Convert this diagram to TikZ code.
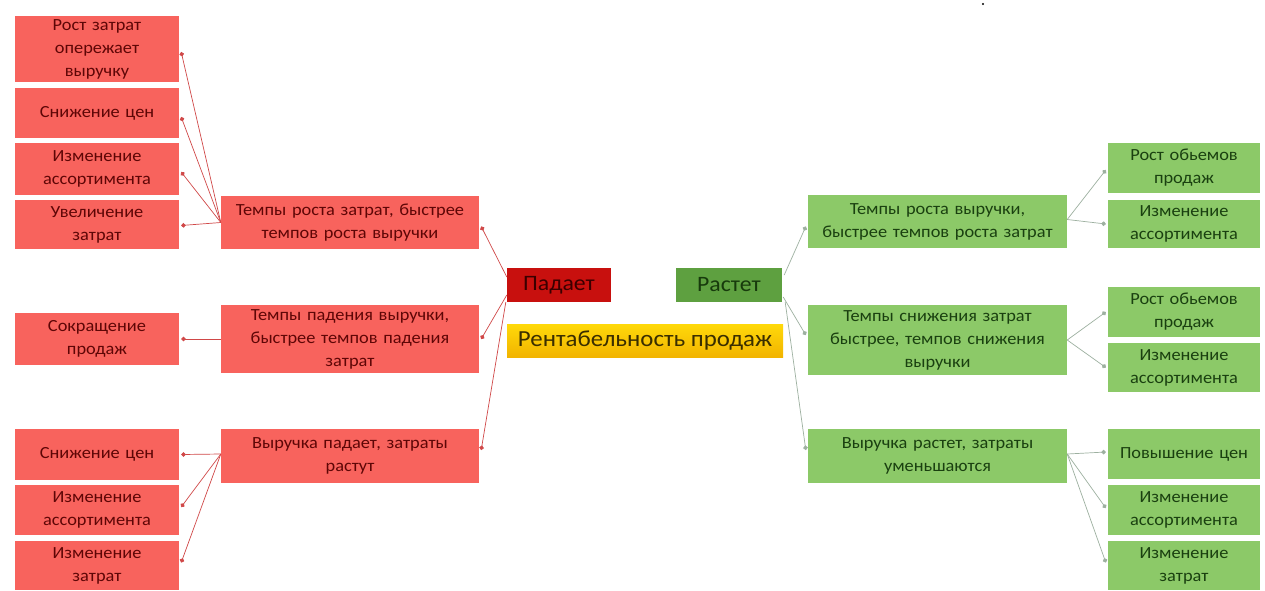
\documentclass[tikz,border=0pt]{standalone}
\usepackage{fontspec}
\setmainfont[FakeStretch=1.08]{Carlito}
\usetikzlibrary{arrows.meta}
\definecolor{boxred}{HTML}{F8635D}
\definecolor{txtred}{HTML}{5E0606}
\definecolor{padred}{HTML}{C8100E}
\definecolor{padtxt}{HTML}{3A0000}
\definecolor{rastgreen}{HTML}{5EA040}
\definecolor{rasttxt}{HTML}{173A0C}
\definecolor{yeltop}{HTML}{FFD90A}
\definecolor{yelbot}{HTML}{F2B400}
\definecolor{yeltxt}{HTML}{3A2E00}
\definecolor{boxgreen}{HTML}{8CC968}
\definecolor{txtgreen}{HTML}{1A4010}
\definecolor{linered}{HTML}{D04848}
\definecolor{linegrey}{HTML}{9DB0A0}
\tikzset{
  box/.style={rectangle, inner sep=0pt, align=center, font=\fontsize{17}{23}\selectfont},
  redbox/.style={box, fill=boxred, text=txtred},
  greenbox/.style={box, fill=boxgreen, text=txtgreen},
  lcol/.style={minimum width=164pt, text width=160pt},
  mcol/.style={minimum width=258pt, text width=252pt},
  rcol/.style={minimum width=152pt, text width=150pt},
  lconn/.style={draw=linered, line width=0.7pt, -{Circle[length=4.5pt]}},
  rconn/.style={draw=linegrey, line width=0.7pt, -{Circle[length=4.5pt]}},
}
\begin{document}
\begin{tikzpicture}[x=1pt,y=-1pt]
\useasboundingbox (0,0) rectangle (1265,590);
\fill[white] (0,0) rectangle (1265,590);
\fill[black] (983,4) circle (1.1pt);
% left column
\node[redbox, lcol, minimum height=66pt] (L1) at (97,49) {Рост затрат\\опережает\\выручку};
\node[redbox, lcol, minimum height=50pt] (L2) at (97,113) {Снижение цен};
\node[redbox, lcol, minimum height=52pt] (L3) at (97,169) {Изменение\\ассортимента};
\node[redbox, lcol, minimum height=49pt] (L4) at (97,224.5) {Увеличение\\затрат};
\node[redbox, lcol, minimum height=52pt] (L5) at (97,339) {Сокращение\\продаж};
\node[redbox, lcol, minimum height=51pt] (L6) at (97,454.5) {Снижение цен};
\node[redbox, lcol, minimum height=50pt] (L7) at (97,510) {Изменение\\ассортимента};
\node[redbox, lcol, minimum height=49pt] (L8) at (97,565.5) {Изменение\\затрат};
% left middle
\node[redbox, mcol, minimum height=53pt] (M1) at (350,222.5) {Темпы роста затрат, быстрее\\темпов роста выручки};
\node[redbox, mcol, minimum height=68pt] (M2) at (350,339) {Темпы падения выручки,\\быстрее темпов падения\\затрат};
\node[redbox, mcol, minimum height=54pt] (M3) at (350,456) {Выручка падает, затраты\\растут};
% centre
\node[box, fill=padred, text=padtxt, minimum width=104pt, minimum height=34pt, font=\fontsize{22}{24}\selectfont] (pad) at (559,285) {Падает};
\node[box, fill=rastgreen, text=rasttxt, minimum width=106pt, minimum height=34pt, font=\fontsize{22}{24}\selectfont] (rast) at (729,285) {Растет};
\node[box, top color=yeltop, bottom color=yelbot, text=yeltxt, minimum width=276pt, minimum height=33pt, font=\fontsize{23}{25}\selectfont] (rent) at (645,340.5) {Рентабельность продаж};
% right middle
\node[greenbox, mcol, minimum width=259pt, minimum height=53pt] (R1) at (937.5,221.5) {Темпы роста выручки,\\быстрее темпов роста затрат};
\node[greenbox, mcol, minimum width=259pt, minimum height=70pt] (R2) at (937.5,340) {Темпы снижения затрат\\быстрее, темпов снижения\\выручки};
\node[greenbox, mcol, minimum width=259pt, minimum height=54pt] (R3) at (937.5,456) {Выручка растет, затраты\\уменьшаются};
% right column
\node[greenbox, rcol, minimum height=50pt] (RR1) at (1184,168) {Рост обьемов\\продаж};
\node[greenbox, rcol, minimum height=48pt] (RR2) at (1184,224) {Изменение\\ассортимента};
\node[greenbox, rcol, minimum height=50pt] (RR3) at (1184,312) {Рост обьемов\\продаж};
\node[greenbox, rcol, minimum height=49pt] (RR4) at (1184,367.5) {Изменение\\ассортимента};
\node[greenbox, rcol, minimum height=50pt] (RR5) at (1184,454) {Повышение цен};
\node[greenbox, rcol, minimum height=50pt] (RR6) at (1184,510) {Изменение\\ассортимента};
\node[greenbox, rcol, minimum height=49pt] (RR7) at (1184,565.5) {Изменение\\затрат};
% connectors left
\draw[lconn] ([yshift=8pt]pad.west) -- ([xshift=2pt,yshift=-4pt]M1.east);
\draw[lconn] ([yshift=-10pt]pad.west) -- ([xshift=2pt]M2.east);
\draw[lconn] ([xshift=-1pt]pad.south west) -- ([xshift=2pt,yshift=6pt]M3.east);
\draw[lconn] (M1.west) -- ([xshift=2pt,yshift=-3pt]L1.east);
\draw[lconn] (M1.west) -- ([xshift=2pt,yshift=-4pt]L2.east);
\draw[lconn] (M1.west) -- ([xshift=2pt,yshift=-3pt]L3.east);
\draw[lconn] (M1.west) -- ([xshift=2pt,yshift=-1pt]L4.east);
\draw[lconn] (M2.west) -- ([xshift=2pt]L5.east);
\draw[lconn] ([yshift=2pt]M3.west) -- ([xshift=2pt]L6.east);
\draw[lconn] ([yshift=2pt]M3.west) -- ([xshift=2pt,yshift=3pt]L7.east);
\draw[lconn] ([yshift=2pt]M3.west) -- ([xshift=2pt,yshift=3pt]L8.east);
% connectors right
\draw[rconn] ([xshift=2pt,yshift=10pt]rast.east) -- ([xshift=-2pt,yshift=-5pt]R1.west);
\draw[rconn] ([xshift=1pt,yshift=-12pt]rast.east) -- ([xshift=-2pt,yshift=5pt]R2.west);
\draw[rconn] ([xshift=3pt]rast.south east) -- ([xshift=-2pt,yshift=6pt]R3.west);
\draw[rconn] ([yshift=2pt]R1.east) -- ([xshift=-2pt,yshift=-2pt]RR1.west);
\draw[rconn] ([yshift=2pt]R1.east) -- ([xshift=-2pt]RR2.west);
\draw[rconn] (R2.east) -- ([xshift=-2pt]RR3.west);
\draw[rconn] (R2.east) -- ([xshift=-2pt]RR4.west);
\draw[rconn] ([yshift=2pt]R3.east) -- ([xshift=-2pt,yshift=2pt]RR5.west);
\draw[rconn] ([yshift=2pt]R3.east) -- ([xshift=-2pt,yshift=2pt]RR6.west);
\draw[rconn] ([yshift=2pt]R3.east) -- ([xshift=-2pt,yshift=3pt]RR7.west);
\end{tikzpicture}
\end{document}
